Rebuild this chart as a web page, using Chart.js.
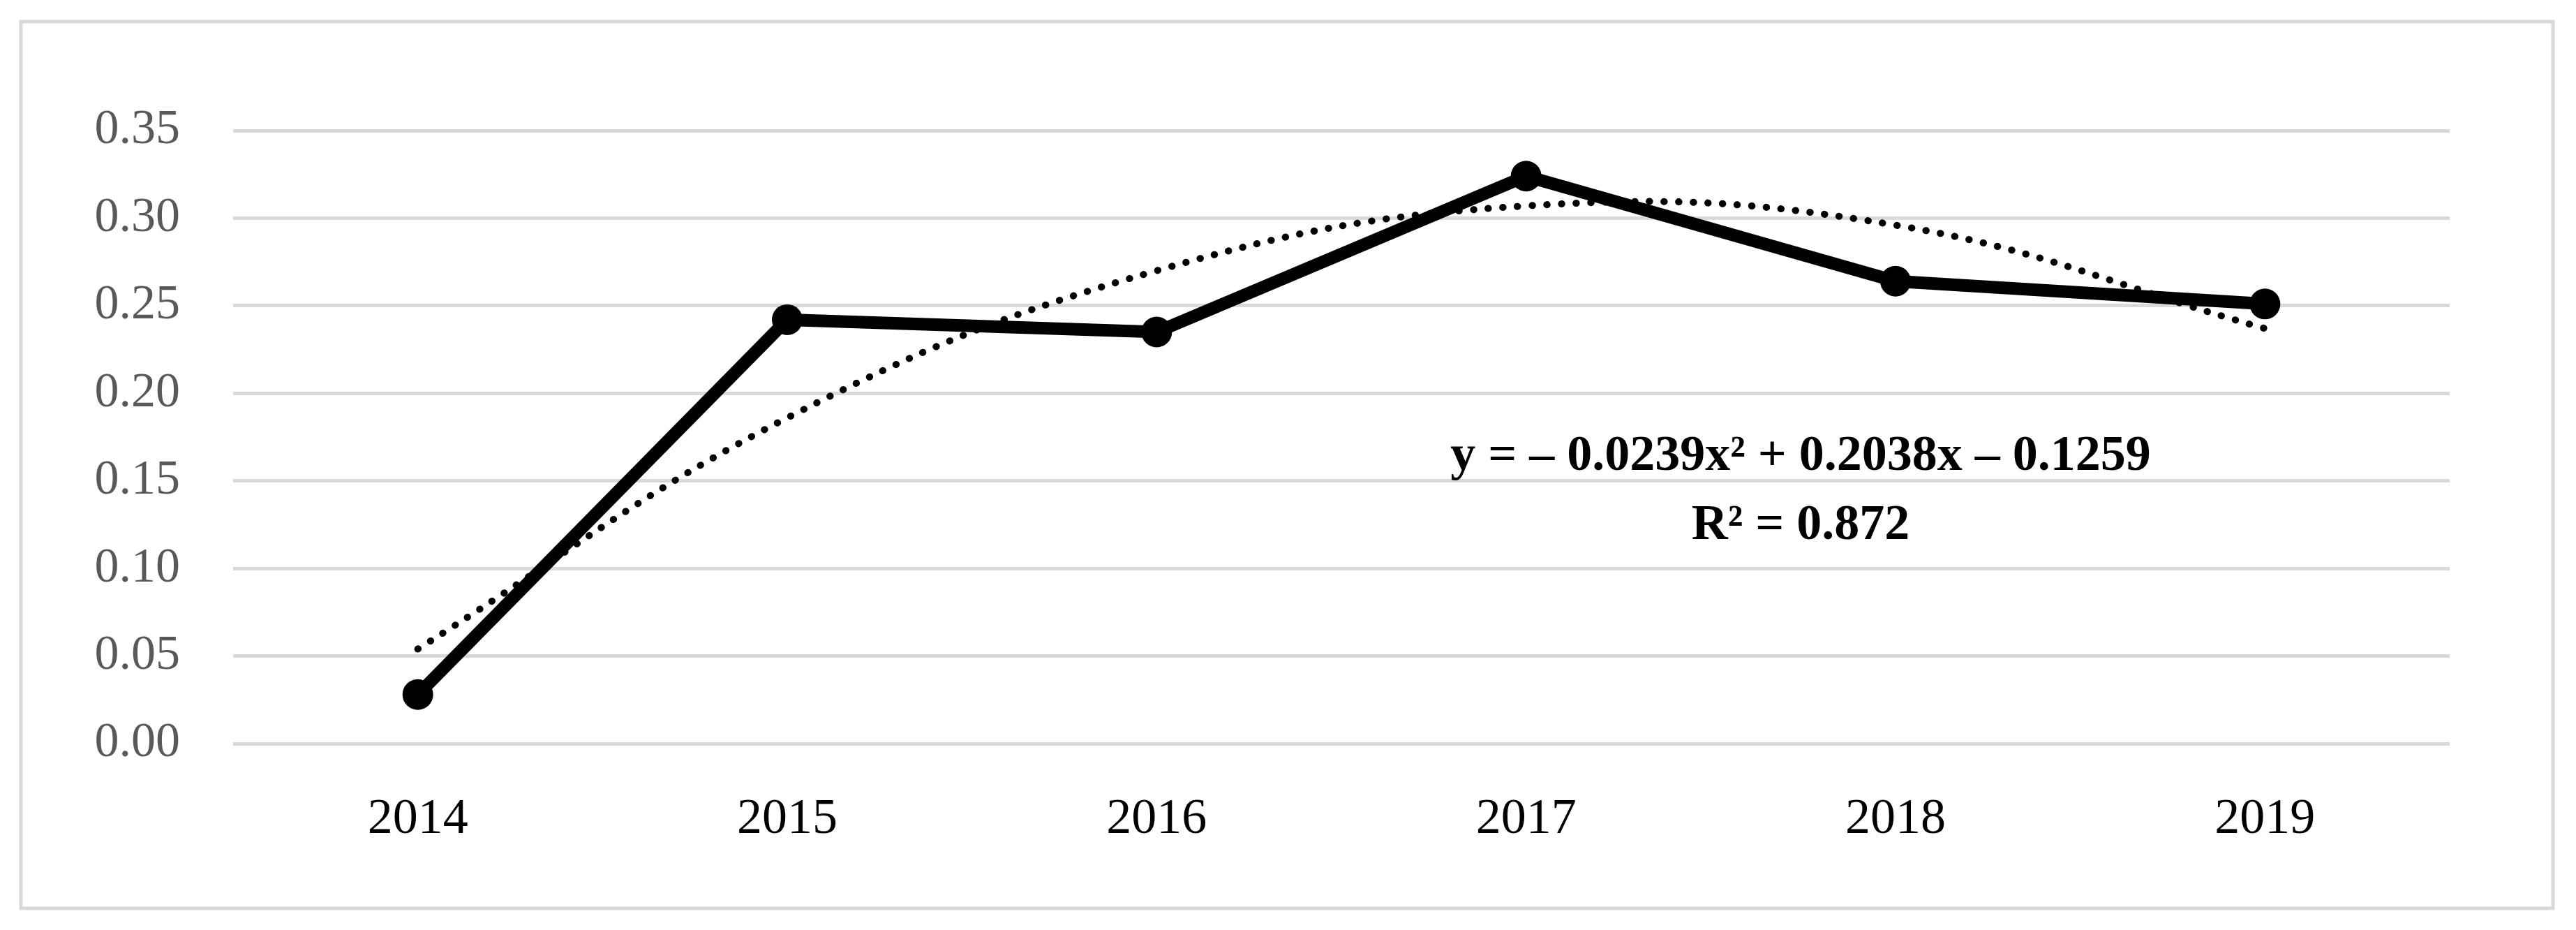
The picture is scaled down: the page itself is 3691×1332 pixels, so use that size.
<!DOCTYPE html>
<html>
<head>
<meta charset="utf-8">
<script src="https://cdn.jsdelivr.net/npm/chart.js@4.4.1/dist/chart.umd.min.js"></script>
<style>
  html, body { margin: 0; padding: 0; background: #fff; }
  #wrap { position: relative; width: 3691px; height: 1332px; }
</style>
</head>
<body>
<div id="wrap"><canvas id="trendChart"></canvas></div>
<script>
const years = ["2014", "2015", "2016", "2017", "2018", "2019"];
const values = [0.028, 0.242, 0.235, 0.324, 0.264, 0.251];
// polynomial trendline as it reads off the picture at each year
const trendValues = [0.054, 0.186, 0.270, 0.307, 0.296, 0.237];
const yMin = 0, yMax = 0.35, yStep = 0.05;
const equationText = "y = \u2013 0.0239x\u00b2 + 0.2038x \u2013 0.1259";
const r2Text = "R\u00b2 = 0.872";

const serif = "'Liberation Serif', 'DejaVu Serif', serif";

// grey frame round the whole figure, and the fit equation
const framePlugin = {
  id: "frame",
  beforeDraw(chart) {
    const ctx = chart.ctx;
    ctx.save();
    ctx.fillStyle = "#fff";
    ctx.fillRect(0, 0, chart.width, chart.height);
    ctx.strokeStyle = "#d9d9d9";
    ctx.lineWidth = 5;
    ctx.strokeRect(30, 31, 3628, 1270);
    ctx.restore();
  },
  afterDraw(chart) {
    const ctx = chart.ctx;
    ctx.save();
    ctx.fillStyle = "#000";
    ctx.textAlign = "center";
    ctx.textBaseline = "alphabetic";
    ctx.font = "bold 72px " + serif;
    ctx.fillText(equationText, 2580, 673);
    ctx.fillText(r2Text, 2580, 772);
    ctx.restore();
  }
};

new Chart(document.getElementById("trendChart"), {
  type: "line",
  data: {
    labels: years,
    datasets: [
      {
        label: "Value",
        data: values,
        borderColor: "#000",
        backgroundColor: "#000",
        borderWidth: 18,
        pointRadius: 22,
        pointBackgroundColor: "#000",
        pointBorderWidth: 0,
        tension: 0,
        order: 1
      },
      {
        label: "Trend",
        data: trendValues,
        borderColor: "#000",
        borderWidth: 10,
        borderDash: [0.5, 20.5],
        borderCapStyle: "round",
        pointRadius: 0,
        tension: 0.4,
        fill: false,
        order: 2
      }
    ]
  },
  options: {
    responsive: true,
    maintainAspectRatio: false,
    animation: false,
    events: [],
    layout: { padding: { top: 187, right: 181, bottom: 0, left: 0 } },
    plugins: {
      legend: { display: false },
      tooltip: { enabled: false }
    },
    scales: {
      x: {
        offset: true,
        grid: { display: false, drawTicks: false },
        border: { display: false },
        ticks: {
          color: "#000",
          padding: 66,
          font: { family: serif, size: 72 }
        },
        afterFit: s => { s.height = 267; }
      },
      y: {
        min: yMin,
        max: yMax,
        grid: { color: "#d9d9d9", lineWidth: 5, drawTicks: false },
        border: { display: false },
        ticks: {
          stepSize: yStep,
          color: "#595959",
          padding: 76,
          font: { family: serif, size: 70 },
          callback: v => Number(v).toFixed(2)
        },
        afterFit: s => { s.width = 334; }
      }
    }
  },
  plugins: [framePlugin]
});
</script>
</body>
</html>
